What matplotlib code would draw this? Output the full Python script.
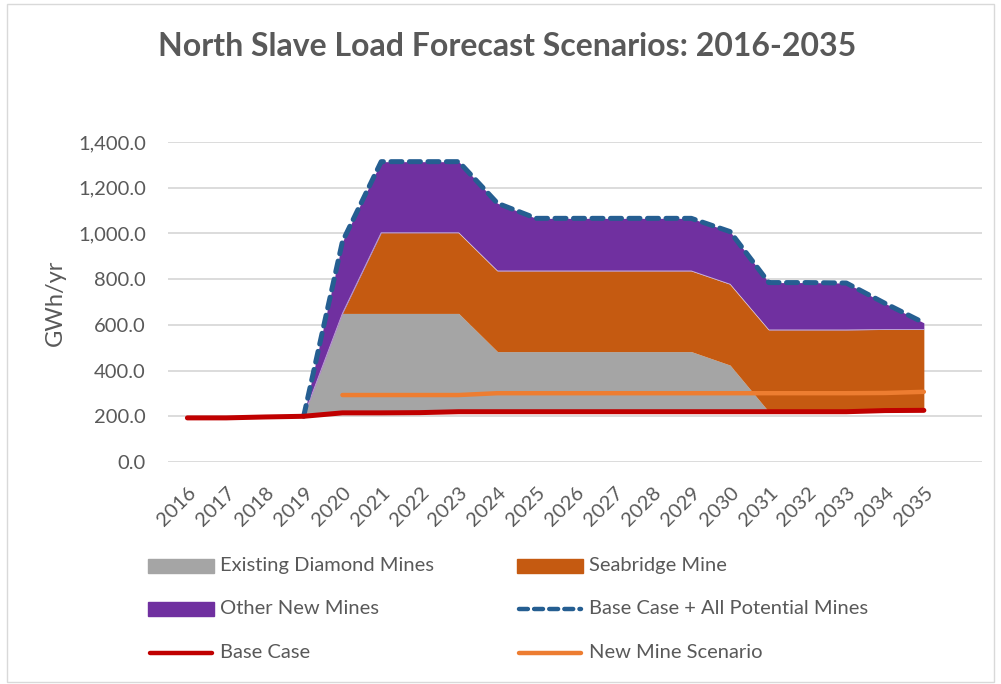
import numpy as np
import matplotlib
matplotlib.use("Agg")
import matplotlib.pyplot as plt
from matplotlib.patches import Rectangle
from matplotlib.lines import Line2D
import matplotlib.transforms as mtransforms

plt.rcParams["font.family"] = ["Lato", "DejaVu Sans"]

# --- data (GWh/yr) ---
years = list(range(2016, 2036))
base_case = [193, 193, 197, 200, 215, 215, 216, 220, 220, 220,
             220, 220, 220, 220, 220, 220, 220, 220, 225, 226]
existing_diamond = [0, 0, 0, 0, 435, 435, 434, 430, 263, 263,
                    263, 263, 263, 263, 204, 0, 0, 0, 0, 0]
seabridge = [0, 0, 0, 0, 0, 353, 353, 353, 353, 353,
             353, 353, 353, 353, 354, 358, 358, 358, 355, 354]
other_new = [0, 0, 0, 0, 314, 311, 311, 311, 296, 230,
             230, 230, 230, 230, 230, 207, 207, 205, 114, 29]
new_mine_scenario = [np.nan, np.nan, np.nan, np.nan, 293, 293, 293, 293, 301, 301,
                     301, 301, 301, 301, 301, 301, 301, 301, 302, 307]
stack_start = 3  # stacked mine areas start in 2019

C_TEXT = "#595959"
C_GRID = "#D9D9D9"
C_GRAY = "#A5A5A5"
C_ORANGE = "#C55A11"
C_PURPLE = "#7030A0"
C_BLUE = "#255E91"
C_RED = "#C00000"
C_LORANGE = "#ED7D31"

W, H = 1001, 684
fx = lambda x: x / W
fy = lambda y: 1 - y / H

fig = plt.figure(figsize=(W / 100, H / 100), dpi=100)
fig.patches.append(Rectangle((fx(7), fy(682)), fx(987), (682 - 4) / H, transform=fig.transFigure,
                             fill=False, edgecolor="#D9D9D9", lw=1))

ax = fig.add_axes([fx(168), fy(462), (982 - 168) / W, 320 / H])

x = np.arange(len(years))
base = np.array(base_case, float)
l1 = base + np.array(existing_diamond)
l2 = l1 + np.array(seabridge)
l3 = l2 + np.array(other_new)
s = slice(stack_start, None)

ax.fill_between(x[s], base[s], l1[s], color=C_GRAY, lw=0, zorder=2)
ax.fill_between(x[s], l1[s], l2[s], color=C_ORANGE, lw=0, zorder=2)
ax.fill_between(x[s], l2[s], l3[s], color=C_PURPLE, lw=0, zorder=2)
ax.plot(x[s], l2[s], color="white", lw=0.6, alpha=0.6, zorder=2.5)

ax.plot(x[s], l3[s], color=C_BLUE, lw=3.6, linestyle=(0, (2.2, 1.5)),
        dash_capstyle="round", zorder=3)
ax.plot(x, new_mine_scenario, color=C_LORANGE, lw=3.2, solid_capstyle="round", zorder=4)
ax.plot(x, base_case, color=C_RED, lw=3.6, solid_capstyle="round", zorder=5)

ax.set_xlim(-0.5, 20.5)
ax.set_ylim(0, 1400)
ax.set_yticks(np.arange(0, 1401, 200))
ax.set_yticklabels([f"{v:,.1f}" for v in np.arange(0, 1401, 200)])
ax.set_xticks(x)
ax.set_xticklabels([str(y) for y in years], rotation=45, ha="right", va="top",
                   rotation_mode="anchor")
offset = mtransforms.ScaledTranslation(-3 / 100, 0, fig.dpi_scale_trans)
for lab in ax.get_xticklabels():
    lab.set_transform(lab.get_transform() + offset)
ax.tick_params(axis="both", length=0, labelsize=14.5, colors=C_TEXT)
ax.tick_params(axis="y", pad=16)
ax.tick_params(axis="x", pad=16)
ax.grid(axis="y", color=C_GRID, lw=1.3, zorder=0)
ax.set_axisbelow(True)
for sp in ax.spines.values():
    sp.set_visible(False)

fig.text(fx(507), fy(47), "North Slave Load Forecast Scenarios: 2016-2035",
         ha="center", va="center", fontsize=23, fontweight="bold", color=C_TEXT)
fig.text(fx(55), fy(303), "GWh/yr", rotation=90, ha="center", va="center",
         fontsize=17, color=C_TEXT)

# legend, laid out like the original (2 columns x 3 rows)
legend_items = [
    ("Existing Diamond Mines", "patch", C_GRAY, 148, 566),
    ("Seabridge Mine", "patch", C_ORANGE, 517, 566),
    ("Other New Mines", "patch", C_PURPLE, 148, 609),
    ("Base Case + All Potential Mines", "dash", C_BLUE, 517, 609),
    ("Base Case", "line", C_RED, 148, 653),
    ("New Mine Scenario", "line", C_LORANGE, 517, 653),
]
for label, kind, color, px, py in legend_items:
    if kind == "patch":
        fig.patches.append(Rectangle((fx(px), fy(py + 7)), 66 / W, 14 / H,
                                     transform=fig.transFigure, color=color))
    elif kind == "dash":
        fig.add_artist(Line2D([fx(px + 2), fx(px + 64)], [fy(py), fy(py)], color=color, lw=3.2,
                              linestyle=(0, (2.0, 1.4)), dash_capstyle="round",
                              transform=fig.transFigure))
    else:
        fig.add_artist(Line2D([fx(px + 2), fx(px + 64)], [fy(py), fy(py)], color=color, lw=3.2,
                              solid_capstyle="round", transform=fig.transFigure))
    fig.text(fx(px + 72), fy(py), label, ha="left", va="center", fontsize=14.5, color=C_TEXT)

fig.savefig("out.png", dpi=100)
